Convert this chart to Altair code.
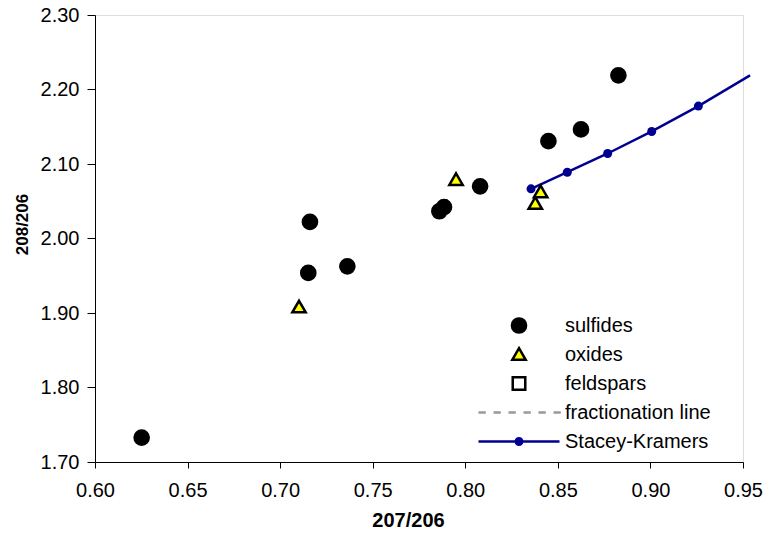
import altair as alt
import pandas as pd

# ---- data: 207Pb/206Pb (x) and 208Pb/206Pb (y) ----
series = ["sulfides", "oxides", "feldspars", "fractionation line", "Stacey-Kramers"]

sulf_x = [0.6252, 0.7161, 0.7152, 0.7363, 0.7860, 0.7885, 0.8080, 0.8449, 0.8625, 0.8827]
sulf_y = [1.7328, 2.0223, 1.9538, 1.9626, 2.0366, 2.0420, 2.0700, 2.1307, 2.1464, 2.2190]

ox_x = [0.7102, 0.7950, 0.8378, 0.8407]
ox_y = [1.9080, 2.0790, 2.0470, 2.0626]

feld_x = []
feld_y = []

frac_x = [0.7868, 0.7905]
frac_y = [2.0360, 2.0535]

sk_x = [0.8355, 0.8551, 0.8769, 0.9007, 0.9259, 0.9538]
sk_y = [2.0667, 2.0890, 2.1141, 2.1437, 2.1777, 2.2190]

x_ticks = [0.60, 0.65, 0.70, 0.75, 0.80, 0.85, 0.90, 0.95]
y_ticks = [1.70, 1.80, 1.90, 2.00, 2.10, 2.20, 2.30]

# ---- symbol paths (unit box [-1,1] = legend symbol width) ----
SYM = 6561  # sqrt -> 81 px wide symbol box


def circle_path(r):
    k = 0.5523 * r
    return (f"M{-r},0C{-r},{-k} {-k},{-r} 0,{-r}C{k},{-r} {r},{-k} {r},0"
            f"C{r},{k} {k},{r} 0,{r}C{-k},{r} {-r},{k} {-r},0Z")


tri_path = "M0,-0.155L0.165,0.13L-0.165,0.13Z"
sq_path = "M-0.155,-0.155H0.155V0.155H-0.155Z"
half = 40.5
dash_path = "".join(
    f"M{(-half + 15 * i) / half:.4f},0H{(-half + 15 * i + 7.3) / half:.4f}" for i in range(6)
)
sk_path = "M-1,0H1" + circle_path(0.08)

shape_range = [circle_path(0.175), tri_path, sq_path, dash_path, sk_path]
fill_range = ["black", "#ffff00", "white", "transparent", "#000090"]
stroke_range = ["black", "black", "black", "#999999", "#000090"]

pts = pd.DataFrame({
    "x": sulf_x + ox_x + feld_x,
    "y": sulf_y + ox_y + feld_y,
    "series": ["sulfides"] * len(sulf_x) + ["oxides"] * len(ox_x) + ["feldspars"] * len(feld_x),
})
frac = pd.DataFrame({"x": frac_x, "y": frac_y})
sk = pd.DataFrame({"x": sk_x, "y": sk_y})

FONT = "Liberation Sans"

x_enc = alt.X("x:Q", scale=alt.Scale(domain=[0.60, 0.95], nice=False, zero=False),
              axis=alt.Axis(values=x_ticks, format=".2f", grid=False, tickSize=6,
                            tickColor="black", domainColor="black",
                            labelFont=FONT, labelFontSize=20, labelColor="black",
                            labelPadding=12, labelFlush=False,
                            title="207/206", titleFont=FONT, titleFontSize=20,
                            titleFontWeight="bold", titleColor="black",
                            titleX=313, titleY=58, titleBaseline="middle"))
y_enc = alt.Y("y:Q", scale=alt.Scale(domain=[1.70, 2.30], nice=False, zero=False),
              axis=alt.Axis(values=y_ticks, format=".2f", grid=False, tickSize=8,
                            tickColor="black", domainColor="black",
                            labelFont=FONT, labelFontSize=20, labelColor="black",
                            labelPadding=8, labelFlush=False,
                            title="208/206", titleFont=FONT, titleFontSize=17,
                            titleFontWeight="bold", titleColor="black",
                            titleX=-73, titleY=209, titleBaseline="middle"))

frac_layer = alt.Chart(frac).mark_line(
    color="#999999", strokeDash=[5, 4], strokeWidth=2, clip=True
).encode(x=x_enc, y=y_enc)

sk_line = alt.Chart(sk).mark_line(
    color="#000090", strokeWidth=2.5, clip=False
).encode(x=x_enc, y=y_enc)

sk_dots = alt.Chart(sk).mark_circle(
    color="#000090", size=81, opacity=1, clip=True
).encode(x=x_enc, y=y_enc)

legend = alt.Legend(
    title=None, orient="none", legendX=382, legendY=296, padding=0,
    clipHeight=29, rowPadding=0, symbolSize=SYM, symbolStrokeWidth=2.5,
    labelFont=FONT, labelFontSize=20, labelColor="black", labelOffset=4,
    labelLimit=300,
)

points = alt.Chart(pts).mark_point(
    size=SYM, strokeWidth=2.5, opacity=1, clip=True
).encode(
    x=x_enc, y=y_enc,
    shape=alt.Shape("series:N", scale=alt.Scale(domain=series, range=shape_range), legend=legend),
    fill=alt.Fill("series:N", scale=alt.Scale(domain=series, range=fill_range), legend=legend),
    stroke=alt.Stroke("series:N", scale=alt.Scale(domain=series, range=stroke_range), legend=legend),
)

chart = alt.layer(frac_layer, sk_line, sk_dots, points).properties(
    width=648, height=447,
    autosize=alt.AutoSizeParams(type="none"),
    padding={"left": 95, "top": 15, "right": 25, "bottom": 74},
).configure_view(stroke="#808080", strokeWidth=1).configure(background="white")

chart.save("out.html", embed_options={"renderer": "svg", "actions": False})
